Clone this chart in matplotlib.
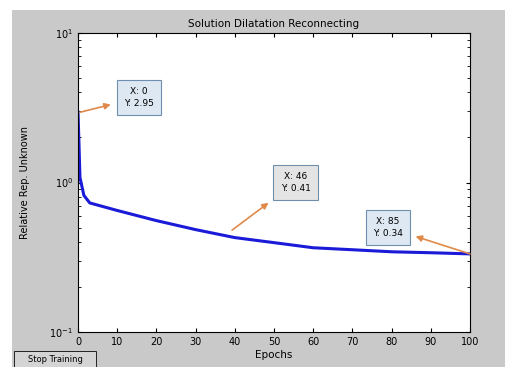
import matplotlib
matplotlib.use("Agg")
import matplotlib.pyplot as plt
from matplotlib.patches import Rectangle

epochs = [0, 0.2, 0.5, 1.5, 3, 10, 20, 30, 40, 50, 60, 70, 80, 90, 100]
perf = [2.95, 2.0, 1.08, 0.82, 0.73, 0.65, 0.556, 0.484, 0.428, 0.396, 0.366, 0.355, 0.344, 0.339, 0.333]
xticks = [0, 10, 20, 30, 40, 50, 60, 70, 80, 90, 100]

tips = [
    {"text": "X: 0\nY: 2.95", "xy": (0.5, 2.95), "box": (15.5, 3.7), "fc": "#dde8f2"},
    {"text": "X: 46\nY: 0.41", "xy": (39.3, 0.48), "box": (55.5, 1.0), "fc": "#e4e4e4"},
    {"text": "X: 85\nY: 0.34", "xy": (100, 0.333), "box": (79, 0.50), "fc": "#dde8f2"},
]

fig = plt.figure(figsize=(5.05, 3.67), dpi=100, facecolor="white")
bg = Rectangle((12/505, 0), 1 - 12/505, (367 - 10)/367,
               transform=fig.transFigure, facecolor="#c9c9c9",
               edgecolor="none", zorder=-10)
fig.add_artist(bg)
ax = fig.add_axes([78/505, 1 - 332/367, 392/505, 299/367])
ax.set_zorder(1)
ax.set_facecolor("white")
ax.plot(epochs, perf, color="#1a1ad8", lw=2.2)
ax.set_yscale("log")
ax.set_xlim(0, 100)
ax.set_ylim(0.1, 10)
ax.set_xticks(xticks)
ax.tick_params(axis="both", which="both", direction="in", top=True, right=True,
               labelsize=7, length=3)
ax.tick_params(which="minor", length=2)
for s in ax.spines.values():
    s.set_linewidth(0.8)
ax.set_title("Solution Dilatation Reconnecting", fontsize=7.5, pad=4)
ax.set_xlabel("Epochs", fontsize=7.5, labelpad=2)
ax.set_ylabel("Relative Rep. Unknown", fontsize=7, labelpad=14)

for t in tips:
    ax.annotate(t["text"], xy=t["xy"], xytext=t["box"], fontsize=6.5,
                ha="center", va="center", linespacing=1.4,
                bbox=dict(boxstyle="square,pad=0.8", facecolor=t["fc"],
                          edgecolor="#6f8fae", lw=0.8),
                arrowprops=dict(arrowstyle="<|-", color="#e08a4a", lw=1.2,
                                mutation_scale=9, shrinkA=4, shrinkB=0))

fig.add_artist(Rectangle((14/505, 0), 82/505, 16/367, transform=fig.transFigure,
                         facecolor="#d4d4d4", edgecolor="#222222", lw=0.7, zorder=5))
fig.text(55/505, 8/367, "Stop Training", fontsize=6, ha="center", va="center", zorder=6)

fig.savefig("out.png", dpi=100, facecolor=fig.get_facecolor())
